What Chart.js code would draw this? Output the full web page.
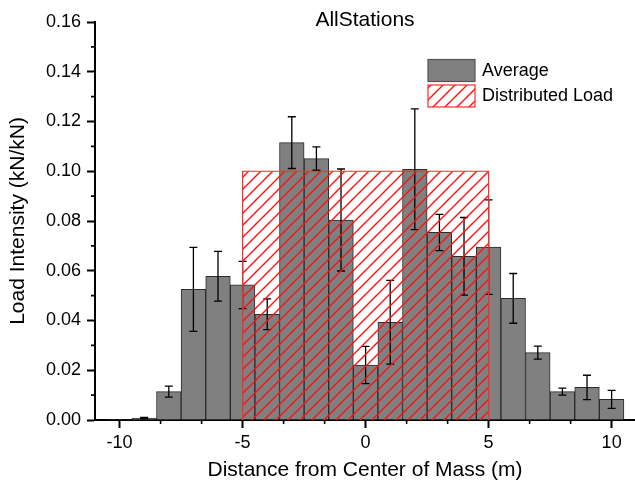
<!DOCTYPE html>
<html>
<head>
<meta charset="utf-8">
<script src="https://cdn.jsdelivr.net/npm/chart.js@4"></script>
<style>
  html, body { margin: 0; padding: 0; background: #fff; }
  #wrap { width: 635px; height: 483px; }
</style>
</head>
<body>
<div id="wrap"><canvas id="chart"></canvas></div>
<script>
// Station positions (m from center of mass) and measured load intensity
const positions = [-10,-9,-8,-7,-6,-5,-4,-3,-2,-1,0,1,2,3,4,5,6,7,8,9,10];
const averages  = [0.0002,0.0008,0.0114,0.0525,0.0578,0.0543,0.0425,0.1115,0.1051,0.0804,0.0221,
                   0.0393,0.1008,0.0754,0.0658,0.0695,0.0489,0.0271,0.0114,0.0131,0.0083];
const errors    = [0,0.0002,0.0022,0.0169,0.0100,0.0095,0.0062,0.0104,0.0047,0.0205,0.0075,
                   0.0168,0.0243,0.0073,0.0156,0.0190,0.0100,0.0026,0.0014,0.0049,0.0036];
// Distributed load: span (m) and intensity
const loadSpan  = [-5, 5];
const loadValue = 0.1;

const FONT = "'Liberation Sans', Arial, sans-serif";

// red diagonal hatch
function hatchPattern() {
  const s = 12, c = document.createElement('canvas');
  c.width = c.height = s;
  const g = c.getContext('2d');
  g.strokeStyle = '#ff1010';
  g.lineWidth = 1.4;
  g.beginPath();
  g.moveTo(0, s); g.lineTo(s, 0);
  g.moveTo(-2, 2); g.lineTo(2, -2);
  g.moveTo(s - 2, s + 2); g.lineTo(s + 2, s - 2);
  g.stroke();
  return g.createPattern(c, 'repeat');
}
const hatch = hatchPattern();

const loadPoints = [
  {x: loadSpan[0], y: 0}, {x: loadSpan[0], y: loadValue},
  {x: loadSpan[1], y: loadValue}, {x: loadSpan[1], y: 0}
];

// error bars drawn right after the bar dataset (under the hatch)
const errorBars = {
  id: 'errorBars',
  afterDatasetDraw(chart, args) {
    if (args.index !== 0) return;
    const ctx = chart.ctx, y = chart.scales.y;
    ctx.save();
    ctx.strokeStyle = '#000';
    ctx.lineWidth = 1.3;
    args.meta.data.forEach((bar, i) => {
      const e = errors[i];
      if (!e) return;
      const top = y.getPixelForValue(averages[i] + e);
      const bot = y.getPixelForValue(averages[i] - e);
      ctx.beginPath();
      ctx.moveTo(bar.x, top); ctx.lineTo(bar.x, bot);
      ctx.moveTo(bar.x - 4, top); ctx.lineTo(bar.x + 4, top);
      ctx.moveTo(bar.x - 4, bot); ctx.lineTo(bar.x + 4, bot);
      ctx.stroke();
    });
    ctx.restore();
  }
};

// title, legend and minor ticks
const decor = {
  id: 'decor',
  afterDraw(chart) {
    const ctx = chart.ctx, a = chart.chartArea;
    const xs = chart.scales.x, ys = chart.scales.y;
    ctx.save();
    // minor ticks
    ctx.strokeStyle = '#000';
    ctx.lineWidth = 1.6;
    ctx.beginPath();
    for (let k = 0; k <= 12; k++) {
      if (k % 3 === 0) continue;
      const v = -10 + k * 5 / 3;
      const px = xs.getPixelForValue(v);
      ctx.moveTo(px, a.bottom); ctx.lineTo(px, a.bottom + 4);
    }
    for (let v = 0.01; v < 0.16; v += 0.02) {
      const py = ys.getPixelForValue(v);
      ctx.moveTo(a.left, py); ctx.lineTo(a.left - 4, py);
    }
    ctx.stroke();

    // title
    ctx.fillStyle = '#000';
    ctx.font = '21px ' + FONT;
    ctx.textAlign = 'center';
    ctx.textBaseline = 'middle';
    ctx.fillText('AllStations', (a.left + a.right) / 2, 20);

    // legend
    const lx = 428, bw = 47, bh = 22;
    ctx.fillStyle = '#808080';
    ctx.fillRect(lx, 59.5, bw, bh);
    ctx.strokeStyle = '#555';
    ctx.lineWidth = 1.2;
    ctx.strokeRect(lx, 59.5, bw, bh);
    ctx.fillStyle = hatch;
    ctx.fillRect(lx, 85, bw, bh);
    ctx.strokeStyle = '#ff2a2a';
    ctx.strokeRect(lx, 85, bw, bh);
    ctx.fillStyle = '#000';
    ctx.font = '18px ' + FONT;
    ctx.textAlign = 'left';
    ctx.fillText(chart.data.datasets[0].label, lx + bw + 7, 71);
    ctx.fillText(chart.data.datasets[1].label, lx + bw + 7, 96.5);
    ctx.restore();
  }
};

new Chart(document.getElementById('chart'), {
  type: 'bar',
  data: {
    datasets: [
      {
        label: 'Average',
        data: positions.map((p, i) => ({x: p, y: averages[i]})),
        backgroundColor: '#808080',
        borderColor: '#2b2b2b',
        borderWidth: 1,
        barPercentage: 1,
        categoryPercentage: 1,
        grouped: false,
        order: 1
      },
      {
        type: 'line',
        label: 'Distributed Load',
        data: loadPoints,
        backgroundColor: hatch,
        borderColor: '#ff2a2a',
        borderWidth: 1.2,
        pointRadius: 0,
        tension: 0,
        fill: 'origin',
        order: 0
      }
    ]
  },
  options: {
    responsive: true, maintainAspectRatio: false,
    animation: false,
    layout: {padding: {top: 22, right: 0, bottom: 0, left: 0}},
    plugins: {legend: {display: false}, tooltip: {enabled: false}, title: {display: false}},
    scales: {
      x: {
        type: 'linear', min: -11, max: 10.95, offset: false,
        afterFit(s) { s.height = 63; },
        grid: {offset: false, drawOnChartArea: false, tickLength: 8, tickWidth: 2, tickColor: '#000'},
        border: {color: '#000', width: 2},
        ticks: {stepSize: 5, includeBounds: false, padding: 4, color: '#000', font: {family: FONT, size: 18}},
        title: {display: true, text: 'Distance from Center of Mass (m)', color: '#000',
                font: {family: FONT, size: 21}, padding: {top: 0, bottom: 0}}
      },
      y: {
        min: 0, max: 0.16,
        afterFit(s) { s.width = 95; },
        grid: {drawOnChartArea: false, tickLength: 8, tickWidth: 2, tickColor: '#000'},
        border: {color: '#000', width: 2},
        ticks: {stepSize: 0.02, padding: 6, color: '#000', font: {family: FONT, size: 18},
                callback: v => v.toFixed(2)},
        title: {display: true, text: 'Load Intensity (kN/kN)', color: '#000',
                font: {family: FONT, size: 21}, padding: {top: 6, bottom: 0}}
      }
    }
  },
  plugins: [errorBars, decor]
});
</script>
</body>
</html>
